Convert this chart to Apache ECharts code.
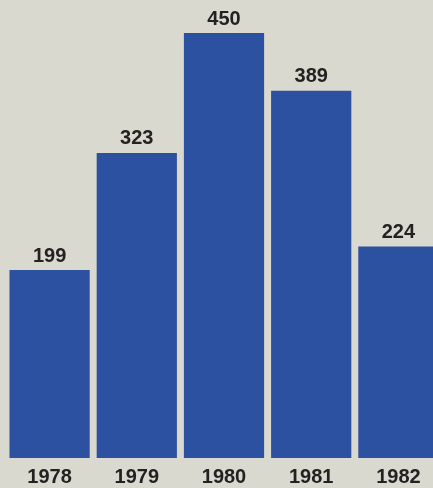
<!DOCTYPE html>
<html><head><meta charset="utf-8">
<script src="https://cdn.jsdelivr.net/npm/echarts@6/dist/echarts.min.js"></script>
<style>html,body{margin:0;padding:0;background:#d9d9cf;overflow:hidden;width:433px;height:488px;}#c{width:442px;height:488px;}</style>
</head><body><div id="c"></div>
<script>
const categories = ['1978', '1979', '1980', '1981', '1982'];
const values = [199, 323, 450, 389, 224];

const chart = echarts.init(document.getElementById('c'));
chart.setOption({
  backgroundColor: '#d9d9cf',
  animation: false,
  grid: { left: 6, right: 0, top: 0, bottom: 30 },
  xAxis: {
    type: 'category', data: categories,
    axisLine: { show: false }, axisTick: { show: false },
    axisLabel: { color: '#222', fontFamily: 'Liberation Sans, Arial, sans-serif', fontWeight: 'bold', fontSize: 20, margin: 9 }
  },
  yAxis: { type: 'value', min: 0, max: 485, show: false, splitLine: { show: false } },
  series: [{
    type: 'bar', data: values, barCategoryGap: '8%',
    itemStyle: { color: '#2c51a0' },
    label: { show: true, position: 'top', distance: 4, color: '#222', fontFamily: 'Liberation Sans, Arial, sans-serif', fontWeight: 'bold', fontSize: 20 }
  }]
});
</script></body></html>
